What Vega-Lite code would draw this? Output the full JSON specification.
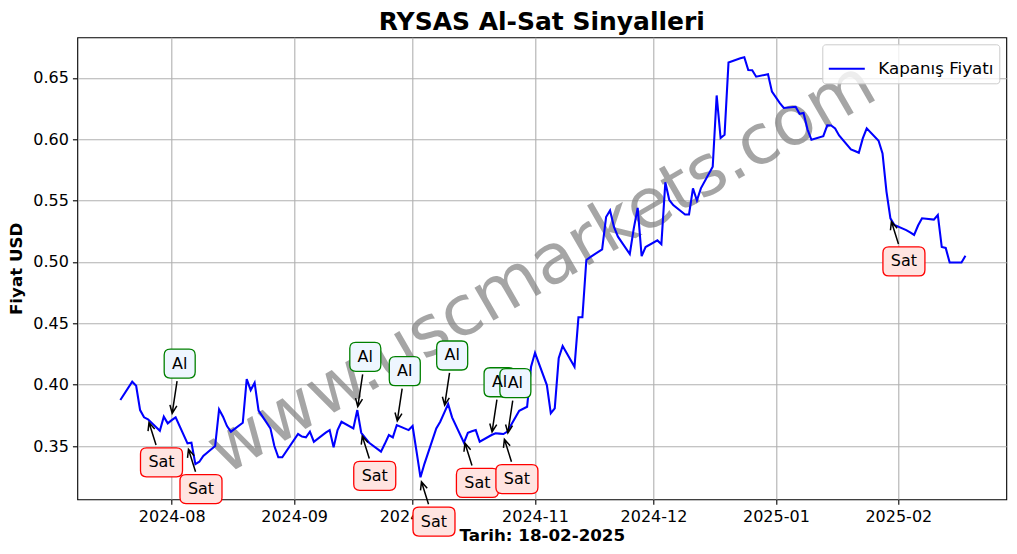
{
  "$schema": "https://vega.github.io/schema/vega-lite/v6.json",
  "width": 929,
  "height": 462,
  "autosize": {"type": "none"},
  "padding": {"left": 77.3, "top": 37.3, "right": 10.7, "bottom": 54.4},
  "title": {"text": "RYSAS Al-Sat Sinyalleri", "font": "DejaVu Sans", "fontSize": 25, "fontWeight": "bold", "color": "black", "anchor": "middle", "baseline": "alphabetic", "offset": -17.7},
  "datasets": {
    "prices": [
      {"date": "2024-07-19", "price": 0.3875},
      {"date": "2024-07-22", "price": 0.4024},
      {"date": "2024-07-23", "price": 0.3991},
      {"date": "2024-07-24", "price": 0.3793},
      {"date": "2024-07-25", "price": 0.3734},
      {"date": "2024-07-26", "price": 0.3718},
      {"date": "2024-07-29", "price": 0.3625},
      {"date": "2024-07-30", "price": 0.3739},
      {"date": "2024-07-31", "price": 0.3685},
      {"date": "2024-08-01", "price": 0.3711},
      {"date": "2024-08-02", "price": 0.3734},
      {"date": "2024-08-05", "price": 0.3522},
      {"date": "2024-08-06", "price": 0.3527},
      {"date": "2024-08-07", "price": 0.3353},
      {"date": "2024-08-08", "price": 0.3372},
      {"date": "2024-08-09", "price": 0.3420},
      {"date": "2024-08-12", "price": 0.3500},
      {"date": "2024-08-13", "price": 0.3799},
      {"date": "2024-08-14", "price": 0.3739},
      {"date": "2024-08-15", "price": 0.3663},
      {"date": "2024-08-16", "price": 0.3617},
      {"date": "2024-08-19", "price": 0.3690},
      {"date": "2024-08-20", "price": 0.4046},
      {"date": "2024-08-21", "price": 0.3956},
      {"date": "2024-08-22", "price": 0.4016},
      {"date": "2024-08-23", "price": 0.3788},
      {"date": "2024-08-26", "price": 0.3644},
      {"date": "2024-08-27", "price": 0.3500},
      {"date": "2024-08-28", "price": 0.3408},
      {"date": "2024-08-29", "price": 0.3408},
      {"date": "2024-09-02", "price": 0.3598},
      {"date": "2024-09-03", "price": 0.3577},
      {"date": "2024-09-04", "price": 0.3571},
      {"date": "2024-09-05", "price": 0.3617},
      {"date": "2024-09-06", "price": 0.3535},
      {"date": "2024-09-09", "price": 0.3609},
      {"date": "2024-09-10", "price": 0.3630},
      {"date": "2024-09-11", "price": 0.3489},
      {"date": "2024-09-12", "price": 0.3630},
      {"date": "2024-09-13", "price": 0.3698},
      {"date": "2024-09-16", "price": 0.3644},
      {"date": "2024-09-17", "price": 0.3793},
      {"date": "2024-09-18", "price": 0.3608},
      {"date": "2024-09-19", "price": 0.3567},
      {"date": "2024-09-20", "price": 0.3527},
      {"date": "2024-09-23", "price": 0.3454},
      {"date": "2024-09-24", "price": 0.3520},
      {"date": "2024-09-25", "price": 0.3590},
      {"date": "2024-09-26", "price": 0.3571},
      {"date": "2024-09-27", "price": 0.3671},
      {"date": "2024-09-30", "price": 0.3630},
      {"date": "2024-10-01", "price": 0.3663},
      {"date": "2024-10-02", "price": 0.3457},
      {"date": "2024-10-03", "price": 0.3245},
      {"date": "2024-10-04", "price": 0.3355},
      {"date": "2024-10-07", "price": 0.3644},
      {"date": "2024-10-08", "price": 0.3698},
      {"date": "2024-10-09", "price": 0.3770},
      {"date": "2024-10-10", "price": 0.3842},
      {"date": "2024-10-11", "price": 0.3734},
      {"date": "2024-10-14", "price": 0.3527},
      {"date": "2024-10-15", "price": 0.3608},
      {"date": "2024-10-16", "price": 0.3620},
      {"date": "2024-10-17", "price": 0.3630},
      {"date": "2024-10-18", "price": 0.3535},
      {"date": "2024-10-21", "price": 0.3590},
      {"date": "2024-10-22", "price": 0.3604},
      {"date": "2024-10-23", "price": 0.3601},
      {"date": "2024-10-24", "price": 0.3598},
      {"date": "2024-10-25", "price": 0.3618},
      {"date": "2024-10-28", "price": 0.3788},
      {"date": "2024-10-30", "price": 0.3820},
      {"date": "2024-10-31", "price": 0.4146},
      {"date": "2024-11-01", "price": 0.4260},
      {"date": "2024-11-04", "price": 0.3997},
      {"date": "2024-11-05", "price": 0.3767},
      {"date": "2024-11-06", "price": 0.3807},
      {"date": "2024-11-07", "price": 0.4215},
      {"date": "2024-11-08", "price": 0.4315},
      {"date": "2024-11-11", "price": 0.4146},
      {"date": "2024-11-12", "price": 0.4549},
      {"date": "2024-11-13", "price": 0.4549},
      {"date": "2024-11-14", "price": 0.5016},
      {"date": "2024-11-15", "price": 0.5040},
      {"date": "2024-11-18", "price": 0.5103},
      {"date": "2024-11-19", "price": 0.5366},
      {"date": "2024-11-20", "price": 0.5419},
      {"date": "2024-11-21", "price": 0.5285},
      {"date": "2024-11-22", "price": 0.5206},
      {"date": "2024-11-25", "price": 0.5065},
      {"date": "2024-11-26", "price": 0.5272},
      {"date": "2024-11-27", "price": 0.5441},
      {"date": "2024-11-28", "price": 0.5048},
      {"date": "2024-11-29", "price": 0.5122},
      {"date": "2024-12-02", "price": 0.5176},
      {"date": "2024-12-03", "price": 0.5145},
      {"date": "2024-12-04", "price": 0.5650},
      {"date": "2024-12-05", "price": 0.5505},
      {"date": "2024-12-06", "price": 0.5464},
      {"date": "2024-12-09", "price": 0.5387},
      {"date": "2024-12-10", "price": 0.5387},
      {"date": "2024-12-11", "price": 0.5600},
      {"date": "2024-12-12", "price": 0.5501},
      {"date": "2024-12-13", "price": 0.5600},
      {"date": "2024-12-16", "price": 0.5776},
      {"date": "2024-12-17", "price": 0.6357},
      {"date": "2024-12-18", "price": 0.6010},
      {"date": "2024-12-19", "price": 0.6037},
      {"date": "2024-12-20", "price": 0.6626},
      {"date": "2024-12-23", "price": 0.6660},
      {"date": "2024-12-24", "price": 0.6668},
      {"date": "2024-12-25", "price": 0.6564},
      {"date": "2024-12-26", "price": 0.6562},
      {"date": "2024-12-27", "price": 0.6510},
      {"date": "2024-12-30", "price": 0.6530},
      {"date": "2024-12-31", "price": 0.6388},
      {"date": "2025-01-02", "price": 0.6295},
      {"date": "2025-01-03", "price": 0.6255},
      {"date": "2025-01-06", "price": 0.6265},
      {"date": "2025-01-07", "price": 0.6207},
      {"date": "2025-01-08", "price": 0.6214},
      {"date": "2025-01-09", "price": 0.6081},
      {"date": "2025-01-10", "price": 0.5996},
      {"date": "2025-01-13", "price": 0.6025},
      {"date": "2025-01-14", "price": 0.6114},
      {"date": "2025-01-15", "price": 0.6112},
      {"date": "2025-01-16", "price": 0.6088},
      {"date": "2025-01-17", "price": 0.6031},
      {"date": "2025-01-20", "price": 0.5918},
      {"date": "2025-01-21", "price": 0.5904},
      {"date": "2025-01-22", "price": 0.5890},
      {"date": "2025-01-23", "price": 0.6007},
      {"date": "2025-01-24", "price": 0.6089},
      {"date": "2025-01-27", "price": 0.5988},
      {"date": "2025-01-28", "price": 0.5885},
      {"date": "2025-01-29", "price": 0.5574},
      {"date": "2025-01-30", "price": 0.5356},
      {"date": "2025-01-31", "price": 0.5301},
      {"date": "2025-02-03", "price": 0.5260},
      {"date": "2025-02-04", "price": 0.5242},
      {"date": "2025-02-05", "price": 0.5220},
      {"date": "2025-02-06", "price": 0.5297},
      {"date": "2025-02-07", "price": 0.5356},
      {"date": "2025-02-10", "price": 0.5345},
      {"date": "2025-02-11", "price": 0.5383},
      {"date": "2025-02-12", "price": 0.5122},
      {"date": "2025-02-13", "price": 0.5114},
      {"date": "2025-02-14", "price": 0.4996},
      {"date": "2025-02-17", "price": 0.4996},
      {"date": "2025-02-18", "price": 0.5050}
    ],
    "signals": [
      {"date": "2024-07-26", "price": 0.3718, "signal": "Sat"},
      {"date": "2024-08-01", "price": 0.3740, "signal": "Al"},
      {"date": "2024-08-05", "price": 0.3500, "signal": "Sat"},
      {"date": "2024-09-17", "price": 0.3795, "signal": "Al"},
      {"date": "2024-09-18", "price": 0.3608, "signal": "Sat"},
      {"date": "2024-09-27", "price": 0.3678, "signal": "Al"},
      {"date": "2024-10-03", "price": 0.3235, "signal": "Sat"},
      {"date": "2024-10-09", "price": 0.3806, "signal": "Al"},
      {"date": "2024-10-14", "price": 0.3550, "signal": "Sat"},
      {"date": "2024-10-21", "price": 0.3588, "signal": "Al"},
      {"date": "2024-10-24", "price": 0.3581, "signal": "Sat"},
      {"date": "2024-10-25", "price": 0.3580, "signal": "Al"},
      {"date": "2025-01-30", "price": 0.5355, "signal": "Sat"}
    ]
  },
  "layer": [
    {
      "data": {"values": [{}]},
      "mark": {"type": "text", "text": "www.uscmarkets.com", "font": "DejaVu Sans", "fontSize": 69.4, "angle": -30, "align": "center", "baseline": "middle", "fill": "gray", "opacity": 0.7},
      "encoding": {
        "x": {"datum": {"year": 2024, "month": 11, "date": 2, "hours": 17, "minutes": 17, "utc": true}, "type": "temporal"},
        "y": {"datum": 0.4948, "type": "quantitative"}
      }
    },
    {
      "data": {"name": "prices"},
      "mark": {"type": "line", "strokeWidth": 2.08},
      "encoding": {
        "x": {
          "field": "date", "type": "temporal",
          "scale": {"type": "utc", "domain": [{"year": 2024, "month": 7, "date": 8, "hours": 2, "minutes": 24, "utc": true}, {"year": 2025, "month": 2, "date": 28, "hours": 8, "minutes": 10, "utc": true}]},
          "axis": {
            "title": "Tarih: 18-02-2025", "format": "%Y-%m", "labelPadding": 4, "titlePadding": 3,
            "values": [
              {"year": 2024, "month": 8, "date": 1, "utc": true},
              {"year": 2024, "month": 9, "date": 1, "utc": true},
              {"year": 2024, "month": 10, "date": 1, "utc": true},
              {"year": 2024, "month": 11, "date": 1, "utc": true},
              {"year": 2024, "month": 12, "date": 1, "utc": true},
              {"year": 2025, "month": 1, "date": 1, "utc": true},
              {"year": 2025, "month": 2, "date": 1, "utc": true}
            ]
          }
        },
        "y": {
          "field": "price", "type": "quantitative",
          "scale": {"domain": [0.3066, 0.6831], "zero": false, "nice": false},
          "axis": {"title": "Fiyat USD", "format": ".2f", "values": [0.35, 0.4, 0.45, 0.5, 0.55, 0.6, 0.65], "labelPadding": 4, "titlePadding": 7}
        },
        "color": {"datum": "Kapanış Fiyatı", "type": "nominal", "scale": {"range": ["#0000ff"]}, "legend": {"title": null}}
      }
    },
    {
      "data": {"name": "signals"},
      "mark": {"type": "point", "filled": false, "stroke": "black", "strokeWidth": 1.5, "size": 10000, "opacity": 1},
      "encoding": {
        "x": {"field": "date", "type": "temporal"},
        "y": {"field": "price", "type": "quantitative"},
        "shape": {"field": "signal", "type": "nominal", "legend": null, "scale": {"domain": ["Al", "Sat"], "range": ["M0.0099,-0.0653L0.1073,-0.7108M0.103,-0.213L0.0099,-0.0653L-0.0355,-0.2339", "M0.0198,0.063L0.161,0.5128M0.1345,0.1947L0.0198,0.063L0.0009,0.2366"]}}
      }
    },
    {
      "data": {"name": "signals"},
      "mark": {"type": "point", "filled": true, "strokeWidth": 1.3, "size": 10000, "opacity": 1},
      "encoding": {
        "x": {"field": "date", "type": "temporal"},
        "y": {"field": "price", "type": "quantitative"},
        "shape": {"field": "signal", "type": "nominal", "legend": null, "scale": {"domain": ["Al", "Sat"], "range": ["M-0.03,-1.35L0.35,-1.35Q0.47,-1.35,0.47,-1.23L0.47,-0.89Q0.47,-0.77,0.35,-0.77L-0.03,-0.77Q-0.15,-0.77,-0.15,-0.89L-0.15,-1.23Q-0.15,-1.35,-0.03,-1.35Z", "M-0.03,0.57L0.57,0.57Q0.69,0.57,0.69,0.69L0.69,1.03Q0.69,1.15,0.57,1.15L-0.03,1.15Q-0.15,1.15,-0.15,1.03L-0.15,0.69Q-0.15,0.57,-0.03,0.57Z"]}},
        "fill": {"field": "signal", "type": "nominal", "legend": null, "scale": {"domain": ["Al", "Sat"], "range": ["#eef6ff", "#ffe4e1"]}},
        "stroke": {"field": "signal", "type": "nominal", "legend": null, "scale": {"domain": ["Al", "Sat"], "range": ["green", "red"]}}
      }
    },
    {
      "data": {"name": "signals"},
      "transform": [{"filter": "datum.signal === 'Al'"}],
      "mark": {"type": "text", "font": "DejaVu Sans", "fontSize": 16, "align": "center", "baseline": "middle", "dx": 8, "dy": -53, "fill": "black"},
      "encoding": {
        "x": {"field": "date", "type": "temporal"},
        "y": {"field": "price", "type": "quantitative"},
        "text": {"field": "signal"}
      }
    },
    {
      "data": {"name": "signals"},
      "transform": [{"filter": "datum.signal === 'Sat'"}],
      "mark": {"type": "text", "font": "DejaVu Sans", "fontSize": 16, "align": "center", "baseline": "middle", "dx": 13.5, "dy": 43, "fill": "black"},
      "encoding": {
        "x": {"field": "date", "type": "temporal"},
        "y": {"field": "price", "type": "quantitative"},
        "text": {"field": "signal"}
      }
    }
  ],
  "resolve": {"scale": {"shape": "independent"}},
  "config": {
    "font": "DejaVu Sans",
    "background": "white",
    "view": {"stroke": "black", "strokeWidth": 1.1},
    "axis": {
      "grid": true, "gridColor": "#b0b0b0", "gridWidth": 1.1, "domain": false,
      "tickColor": "black", "tickSize": 4.9, "tickWidth": 1.1,
      "labelFont": "DejaVu Sans", "labelFontSize": 16, "labelColor": "black", "labelFlush": false, "labelOverlap": false,
      "titleFont": "DejaVu Sans", "titleFontSize": 16.7, "titleFontWeight": "bold", "titleColor": "black"
    },
    "legend": {
      "orient": "top-right", "offset": 7, "padding": 5, "fillColor": "rgba(255,255,255,0.8)", "strokeColor": "#cccccc", "cornerRadius": 3,
      "symbolType": "stroke", "symbolSize": 1296, "symbolStrokeWidth": 2.08, "labelFont": "DejaVu Sans", "labelFontSize": 16.7, "labelOffset": 12, "labelColor": "black"
    }
  }
}
